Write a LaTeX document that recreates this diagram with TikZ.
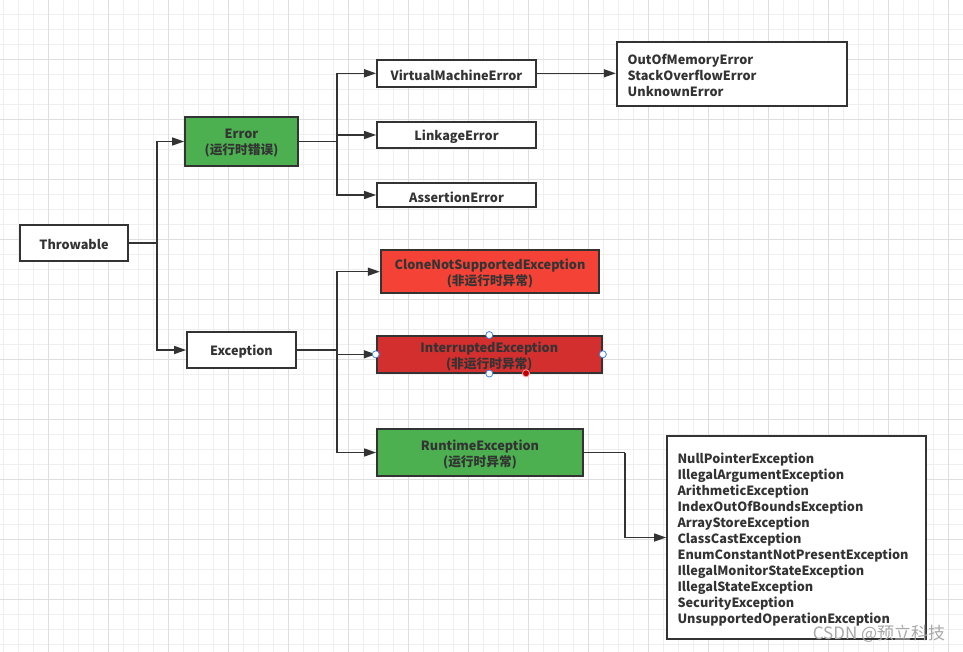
\documentclass[tikz,border=0pt]{standalone}
\usepackage{fontspec}
\setmainfont{Noto Sans CJK SC}
\usetikzlibrary{arrows.meta}
\definecolor{minorc}{HTML}{EFEFEF}
\definecolor{majorc}{HTML}{DEDEDE}
\definecolor{linec}{HTML}{333333}
\definecolor{txtc}{HTML}{333333}
\definecolor{greenf}{HTML}{4CAF50}
\definecolor{redf}{HTML}{F44336}
\definecolor{dredf}{HTML}{D32F2F}
\definecolor{handle}{HTML}{3D85E0}
\definecolor{wmark}{HTML}{A8A8A8}
\begin{document}
\begin{tikzpicture}[x=1pt,y=-1pt,
  minor/.style={draw=minorc,line width=0.8pt},
  major/.style={draw=majorc,line width=0.8pt},
  nbox/.style={draw=linec,line width=1.8pt,inner sep=0pt},
  tx/.style={text=txtc,inner sep=0pt,align=center,yshift=-2pt,
    font=\fontsize{12.7}{16}\selectfont\bfseries},
  ltx/.style={tx,align=left},
  conn/.style={draw=linec,line width=1.5pt},
  arr/.style={conn,-{Triangle[length=12pt,width=8pt]}},
  hdl/.style={circle,draw=handle,fill=white,line width=0.8pt,inner sep=0pt,minimum size=7pt}]
\fill[white] (0,0) rectangle (963,652);
\useasboundingbox (0,0) rectangle (963,652);
\foreach \i in {0,...,64} \draw[minor] ({3.33+15*\i},0) -- ++(0,652);
\foreach \j in {0,...,43} \draw[minor] (0,{14.33+15*\j}) -- ++(963,0);
\foreach \i in {0,...,15} \draw[major] ({48.33+60*\i},0) -- ++(0,652);
\foreach \j in {0,...,10} \draw[major] (0,{59.33+60*\j}) -- ++(963,0);

% nodes
\node[nbox,fill=white,minimum width=108pt,minimum height=36pt,
  label={[tx]center:Throwable}] (thr) at (74,243) {};
\node[nbox,fill=greenf,minimum width=113pt,minimum height=49pt,
  label={[tx]center:{Error\\(运行时错误)}}] (err) at (241.5,141.5) {};
\node[nbox,fill=white,minimum width=109pt,minimum height=36pt,
  label={[tx]center:Exception}] (exc) at (241.5,350) {};
\node[nbox,fill=white,minimum width=159pt,minimum height=26.7pt,
  label={[tx]center:VirtualMachineError}] (vme) at (456.5,73.3) {};
\node[nbox,fill=white,minimum width=159pt,minimum height=26.6pt,
  label={[tx]center:LinkageError}] (lnk) at (456.5,135) {};
\node[nbox,fill=white,minimum width=159pt,minimum height=24.6pt,
  label={[tx]center:AssertionError}] (asr) at (456.5,195) {};
\node[nbox,fill=white,minimum width=230pt,minimum height=64.3pt,
  label={[ltx,text width=208pt,yshift=0.5pt]center:{OutOfMemoryError\\StackOverflowError\\UnknownError}}] (out) at (731.7,73.9) {};
\node[nbox,fill=redf,minimum width=218.6pt,minimum height=43.3pt,
  label={[tx]center:{CloneNotSupportedException\\(非运行时异常)}}] (cln) at (490,271.7) {};
\node[nbox,fill=dredf,minimum width=225.3pt,minimum height=36.7pt,
  label={[tx]center:{InterruptedException\\(非运行时异常)}}] (itr) at (489.3,354.3) {};
\node[nbox,fill=greenf,minimum width=206pt,minimum height=47pt,
  label={[tx]center:{RuntimeException\\(运行时异常)}}] (rte) at (480,452.5) {};
\node[nbox,fill=white,minimum width=259pt,minimum height=203pt,
  label={[ltx,text width=238pt]center:{NullPointerException\\IllegalArgumentException\\ArithmeticException\\IndexOutOfBoundsException\\ArrayStoreException\\ClassCastException\\EnumConstantNotPresentException\\IllegalMonitorStateException\\IllegalStateException\\SecurityException\\UnsupportedOperationException}}] (lst) at (796.5,537.5) {};

% connectors
\coordinate (t1) at (157,243);
\draw[conn] (thr.east) -- (t1);
\draw[arr] (t1) |- (err.west);
\draw[arr] (t1) |- (exc.west);

\coordinate (t2) at (337,141.5);
\draw[conn] (err.east) -- (t2);
\draw[arr] (t2) |- (vme.west);
\draw[arr] (t2) |- (lnk.west);
\draw[arr] (t2) |- (asr.west);
\draw[arr] (vme.east) -- (vme.east -| out.west);

\coordinate (t3) at (337,350);
\draw[conn] (exc.east) -- (t3);
\draw[arr] (t3) |- (cln.west);
\draw[arr] (t3) |- (itr.west);
\draw[arr] (t3) |- (rte.west);

\coordinate (t4) at (625,452.5);
\draw[conn] (rte.east) -- (t4);
\draw[arr] (t4) |- (lst.west);

% selection handles
\node[hdl] (h1) at (itr.west) {};
\node[hdl] (h2) at (itr.east) {};
\node[hdl] (h3) at (itr.north) {};
\node[hdl] (h4) at (itr.south) {};
\node[circle,fill=red!75!black,draw=red!40,line width=0.8pt,inner sep=0pt,minimum size=7pt] (h5) at (526,373.3) {};

% watermark
\node[text=wmark,font=\fontsize{17}{17}\selectfont,inner sep=0pt] (wm) at (879,633.5) {CSDN @预立科技};
\end{tikzpicture}
\end{document}
